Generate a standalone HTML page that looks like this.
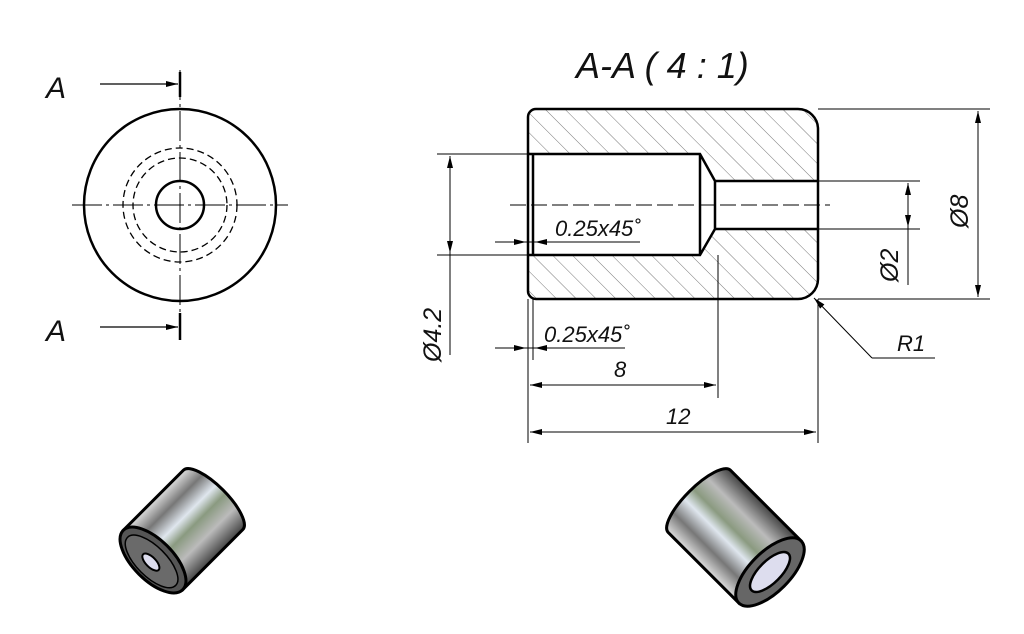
<!DOCTYPE html>
<html><head><style>body{margin:0;background:#fff}svg{display:block}text{font-family:"Liberation Sans",sans-serif;font-style:italic;fill:#111}</style></head><body>
<svg width="1024" height="634" viewBox="0 0 1024 634" xmlns="http://www.w3.org/2000/svg">
<defs>
<pattern id="h" width="14" height="14" patternUnits="userSpaceOnUse" patternTransform="rotate(-45)"><line x1="0" y1="0" x2="0" y2="14" stroke="#555" stroke-width="0.8"/></pattern>
<marker id="a" markerWidth="12" markerHeight="6" refX="12" refY="3" orient="auto-start-reverse" markerUnits="userSpaceOnUse"><path d="M0,0L12,3L0,6z" fill="#000"/></marker>
<linearGradient id="m" x1="0" y1="0" x2="0" y2="1"><stop offset="0" stop-color="#ddd"/><stop offset=".2" stop-color="#777"/><stop offset=".4" stop-color="#dfe6ee"/><stop offset=".55" stop-color="#8a9a80"/><stop offset=".75" stop-color="#bbb"/><stop offset="1" stop-color="#444"/></linearGradient>
</defs>
<g stroke="#000" fill="none">
<circle cx="180" cy="205" r="96" stroke-width="2.5"/>
<circle cx="180" cy="205" r="57" stroke-width="1.3" stroke-dasharray="7,4"/>
<circle cx="180" cy="205" r="47" stroke-width="1.3" stroke-dasharray="7,4"/>
<circle cx="180" cy="205" r="24" stroke-width="2.5"/>
<line x1="180" y1="70" x2="180" y2="340" stroke-width="1" stroke-dasharray="30,4,3,4"/>
<line x1="72" y1="205" x2="288" y2="205" stroke-width="1" stroke-dasharray="30,4,3,4"/>
<line x1="100" y1="84" x2="178" y2="84" stroke-width="1.3" marker-end="url(#a)"/>
<line x1="100" y1="327" x2="178" y2="327" stroke-width="1.3" marker-end="url(#a)"/>
<line x1="180" y1="72" x2="180" y2="97" stroke-width="2.5"/>
<line x1="180" y1="313" x2="180" y2="340" stroke-width="2.5"/>
<path d="M528,154V117a8,8 0 0 1 8,-8H798a20,20 0 0 1 20,20V181H715L700,154Z" fill="url(#h)" stroke="none"/>
<path d="M528,255V291a8,8 0 0 0 8,8H798a20,20 0 0 0 20,-20V229H715L700,255Z" fill="url(#h)" stroke="none"/>
<path d="M536,109H798a20,20 0 0 1 20,20V279a20,20 0 0 1 -20,20H536a8,8 0 0 1 -8,-8V117a8,8 0 0 1 8,-8Z" stroke-width="2.5"/>
<path d="M528,154H700L715,181H818M528,255H700L715,229H818M533,154V255M700,154V255M715,181V229" stroke-width="2.5"/>
<line x1="510" y1="205" x2="830" y2="205" stroke-width="1" stroke-dasharray="16,5"/>
<g stroke-width="1">
<path d="M437,154H528M437,255H528M818,109H990M818,299H990M818,181H920M818,229H920M528,299V443M533,299V360M718,255V398M818,299V443M495,242H640M495,348H625M872,358H935"/>
<line x1="450" y1="156" x2="450" y2="253" marker-start="url(#a)" marker-end="url(#a)"/>
<line x1="450" y1="253" x2="450" y2="355"/>
<line x1="978" y1="111" x2="978" y2="297" marker-start="url(#a)" marker-end="url(#a)"/>
<line x1="908" y1="183" x2="908" y2="227" marker-start="url(#a)" marker-end="url(#a)"/>
<line x1="908" y1="227" x2="908" y2="285"/>
<line x1="530" y1="385" x2="716" y2="385" marker-start="url(#a)" marker-end="url(#a)"/>
<line x1="530" y1="432" x2="816" y2="432" marker-start="url(#a)" marker-end="url(#a)"/>
<line x1="496" y1="242" x2="526" y2="242" marker-end="url(#a)"/>
<line x1="560" y1="242" x2="535" y2="242" marker-end="url(#a)"/>
<line x1="496" y1="348" x2="526" y2="348" marker-end="url(#a)"/>
<line x1="560" y1="348" x2="535" y2="348" marker-end="url(#a)"/>
<line x1="872" y1="358" x2="814" y2="298" marker-end="url(#a)"/>
</g>
<g transform="translate(153,560) rotate(-45)">
<path d="M0,-42H85A14,42 0 0 1 85,42H0Z" fill="url(#m)" stroke-width="3"/>
<ellipse cx="0" cy="0" rx="20" ry="42" fill="#555" stroke-width="3"/>
<ellipse cx="-2" cy="0" rx="15" ry="34" fill="#6a6a6a" stroke-width="1.5"/>
<ellipse cx="-3" cy="0" rx="5" ry="11" fill="#dde" stroke-width="2"/>
</g>
<g transform="translate(770,572) rotate(-135)">
<path d="M0,-44H100A14,44 0 0 1 100,44H0Z" fill="url(#m)" stroke-width="3"/>
<ellipse cx="0" cy="0" rx="20" ry="44" fill="#666" stroke-width="3"/>
<ellipse cx="0" cy="0" rx="11" ry="26" fill="#dde" stroke-width="2.5"/>
</g>
</g>
<text x="46" y="98" font-size="30">A</text>
<text x="46" y="341" font-size="30">A</text>
<text x="576" y="78" font-size="36">A-A ( 4 : 1)</text>
<text x="555" y="236" font-size="22">0.25x45˚</text>
<text x="544" y="342" font-size="22">0.25x45˚</text>
<text x="614" y="377" font-size="22">8</text>
<text x="666" y="424" font-size="22">12</text>
<text x="897" y="351" font-size="22">R1</text>
<text font-size="25" transform="translate(441,362) rotate(-90)">Ø4.2</text>
<text font-size="25" transform="translate(898,282) rotate(-90)">Ø2</text>
<text font-size="25" transform="translate(968,228) rotate(-90)">Ø8</text>
</svg>
</body></html>
